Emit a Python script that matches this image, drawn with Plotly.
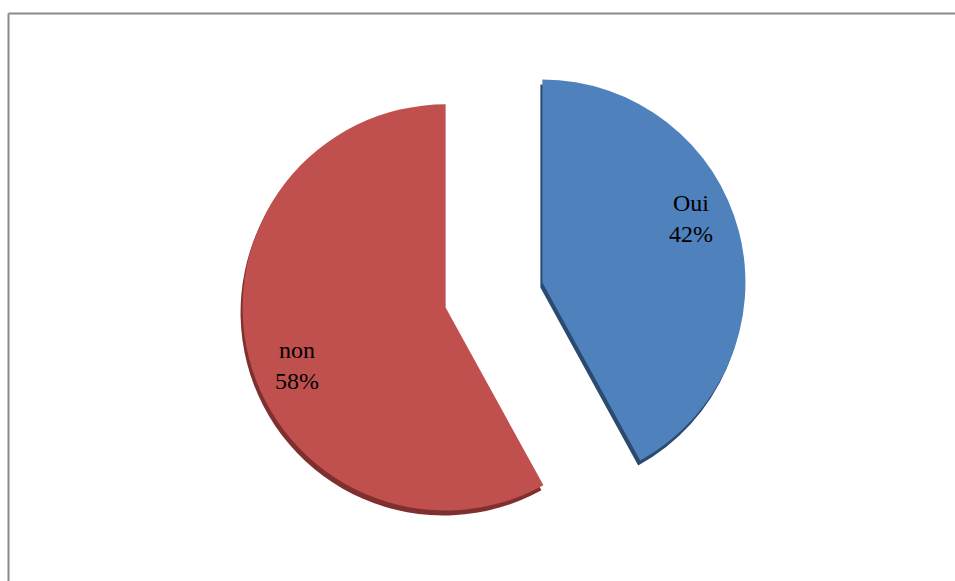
import math
import plotly.graph_objects as go

labels = ["Oui", "non"]
values = [42, 58]
colors = ["#4F81BD", "#C0504D"]
shadow_colors = ["#2B4A70", "#7F302E"]

W, H = 955, 581
cx, cy = 494, 295
half = 253
pull = 0.246

def dom(cx, cy):
    return dict(x=[(cx - 444) / W, (cx + 444) / W],
                y=[1 - (cy + half) / H, 1 - (cy - half) / H])

fig = go.Figure()
# depth/shadow layer
fig.add_trace(go.Pie(
    labels=labels, values=values, sort=False, direction="clockwise",
    rotation=0, pull=[pull, pull],
    marker=dict(colors=shadow_colors, line=dict(width=0)),
    textinfo="none", hoverinfo="skip", showlegend=False,
    domain=dom(cx - 2, cy + 5),
))
fig.add_trace(go.Pie(
    labels=labels, values=values, sort=False, direction="clockwise",
    rotation=0, pull=[pull, pull],
    marker=dict(colors=colors, line=dict(width=0)),
    textinfo="none",
    showlegend=False,
    domain=dom(cx, cy),
))

# labels placed along each slice (computed from the data)
r = half / (1 + pull)
total = sum(values)
annotations = []
start = 0.0
for lab, v in zip(labels, values):
    frac = v / total
    mid = (start + frac / 2) * 2 * math.pi  # clockwise from 12 o'clock
    start += frac
    dx, dy = math.sin(mid), -math.cos(mid)
    scx, scy = cx + pull * r * dx, cy + pull * r * dy
    a = mid - math.radians(8)
    tx = scx + 0.79 * r * math.sin(a)
    ty = scy - 0.79 * r * math.cos(a) - 3
    annotations.append(dict(
        x=tx / W, y=1 - ty / H, xref="paper", yref="paper",
        text=f"{lab}<br>{round(100 * frac)}%", showarrow=False,
        font=dict(family="Liberation Serif, Times New Roman, serif", size=24, color="black"),
        align="center", xanchor="center", yanchor="middle",
    ))

fig.update_layout(
    width=W, height=H,
    margin=dict(l=0, r=0, t=0, b=0),
    paper_bgcolor="white", plot_bgcolor="white",
    annotations=annotations,
    shapes=[
        dict(type="line", xref="paper", yref="paper",
             x0=8.5 / W, x1=1, y0=1 - 13.5 / H, y1=1 - 13.5 / H,
             line=dict(color="#8a8a8a", width=2)),
        dict(type="line", xref="paper", yref="paper",
             x0=8.5 / W, x1=8.5 / W, y0=0, y1=1 - 13.5 / H,
             line=dict(color="#8a8a8a", width=2)),
    ],
)

fig.write_html("out.html")
